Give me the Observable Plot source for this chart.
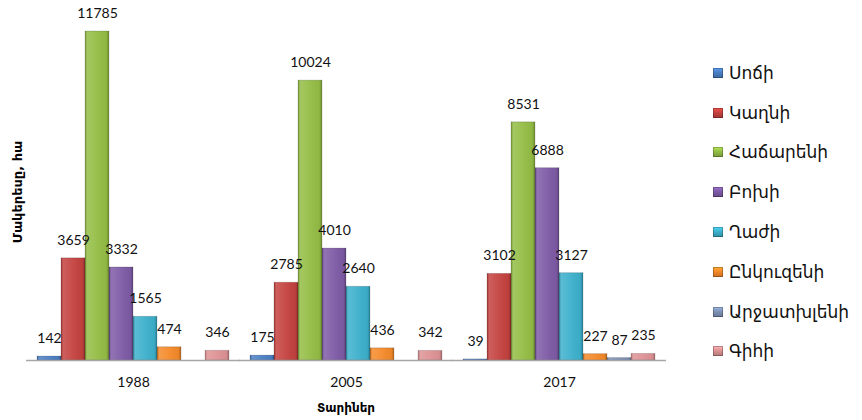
<!DOCTYPE html>
<html>
<head>
<meta charset="utf-8">
<script src="https://cdn.jsdelivr.net/npm/d3@7"></script>
<script src="https://cdn.jsdelivr.net/npm/@observablehq/plot@0.6"></script>
<style>
  body { margin: 0; background: white; font-family: "DejaVu Sans", sans-serif; }
  #wrap { position: relative; width: 862px; height: 420px; overflow: hidden; }
  #legend { position: absolute; left: 713px; top: 53px; }
  .item { display: flex; align-items: center; height: 39.8px; font-size: 17px; color: #111; }
  .sw { width: 10px; height: 10px; margin-right: 6px; box-shadow: inset 0 0 0 1px rgba(0,0,0,0.25); }
  #ytitle { position: absolute; left: 17px; top: 192px; transform: translate(-50%, -50%) rotate(-90deg); font-weight: bold; font-size: 13px; white-space: nowrap; }
  #xtitle { position: absolute; left: 346px; top: 408px; transform: translate(-50%, -50%); font-weight: bold; font-size: 12px; white-space: nowrap; }
</style>
</head>
<body>
<div id="wrap"></div>
<script>
const years = ["1988", "2005", "2017"];
const species = ["Սոճի", "Կաղնի", "Հաճարենի", "Բոխի", "Ղաժի", "Ընկուզենի", "Արջատխլենի", "Գիհի"];
const colors = ["#4A7FC4", "#C4423F", "#94BD45", "#7E5BA6", "#3DB0CC", "#F58A2A", "#7F93B8", "#DE9294"];
const v1988 = [142, 3659, 11785, 3332, 1565, 474, null, 346];
const v2005 = [175, 2785, 10024, 4010, 2640, 436, null, 342];
const v2017 = [39, 3102, 8531, 6888, 3127, 227, 87, 235];
const yTitle = "Մակերեսը, հա";
const xTitle = "Տարիներ";

const series = [v1988, v2005, v2017];
const data = [];
years.forEach((yr, i) => species.forEach((sp, j) => {
  const v = series[i][j];
  if (v != null) data.push({year: yr, species: sp, value: v});
}));

const chart = Plot.plot({
  width: 862, height: 420,
  marginLeft: 25, marginRight: 195, marginTop: 25, marginBottom: 60,
  style: {fontFamily: "Lato, DejaVu Sans", fontSize: "14px", background: "white", color: "#111"},
  fx: {domain: years, paddingInner: 0.087, paddingOuter: 0.047, label: null},
  x: {domain: species, padding: 0, axis: null},
  y: {domain: [0, 12000], axis: null},
  color: {domain: species, range: colors},
  marks: [
    Plot.barY(data, {fx: "year", x: "species", y: "value", fill: "species"}),
    Plot.barY(data, {fx: "year", x: "species", y: "value", fill: "url(#shine)"}),
    Plot.barY(data, {fx: "year", x: "species", y: "value", fill: "none", stroke: "black", strokeOpacity: 0.15, strokeWidth: 1}),
    Plot.ruleY([0], {stroke: "#a6a6a6", strokeWidth: 1.5, insetLeft: -10, insetRight: -10}),
    Plot.text(data, {fx: "year", x: "species", y: "value", text: d => String(d.value), dy: -18, fontSize: 14, fill: "#111"}),
    Plot.axisFx({anchor: "bottom", tickSize: 0, tickPadding: 17, label: null, fontSize: 14})
  ]
});

const ns = "http://www.w3.org/2000/svg";
const defs = document.createElementNS(ns, "defs");
const g = document.createElementNS(ns, "linearGradient");
g.setAttribute("id", "shine");
g.setAttribute("x1", "0"); g.setAttribute("x2", "1"); g.setAttribute("y1", "0"); g.setAttribute("y2", "0");
[[0, "#000", 0.2], [0.1, "#fff", 0.15], [0.5, "#fff", 0.05], [0.88, "#000", 0.03], [1, "#000", 0.25]].forEach(([o, c, op]) => {
  const s = document.createElementNS(ns, "stop");
  s.setAttribute("offset", o); s.setAttribute("stop-color", c); s.setAttribute("stop-opacity", op);
  g.appendChild(s);
});
defs.appendChild(g);
chart.insertBefore(defs, chart.firstChild);

const wrap = document.getElementById("wrap");
wrap.appendChild(chart);

const legend = document.createElement("div");
legend.id = "legend";
species.forEach((sp, i) => {
  const it = document.createElement("div");
  it.className = "item";
  const sw = document.createElement("div");
  sw.className = "sw";
  sw.style.background = `linear-gradient(180deg, ${d3.color(colors[i]).brighter(0.6)} 0%, ${colors[i]} 45%, ${d3.color(colors[i]).darker(0.6)} 100%)`;
  const t = document.createElement("span");
  t.textContent = sp;
  it.appendChild(sw); it.appendChild(t);
  legend.appendChild(it);
});
wrap.appendChild(legend);

const yt = document.createElement("div"); yt.id = "ytitle"; yt.textContent = yTitle; wrap.appendChild(yt);
const xt = document.createElement("div"); xt.id = "xtitle"; xt.textContent = xTitle; wrap.appendChild(xt);
</script>
</body>
</html>
